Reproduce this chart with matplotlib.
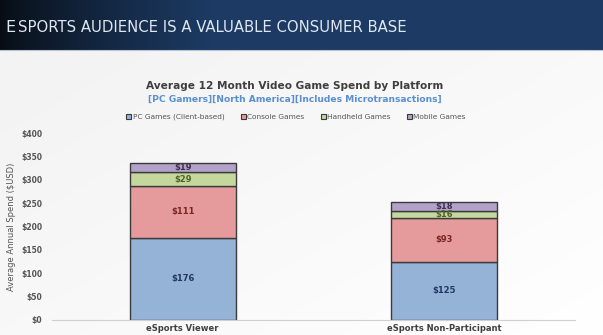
import numpy as np
import matplotlib
matplotlib.use("Agg")
import matplotlib.pyplot as plt
from matplotlib.patches import Patch

categories = ["eSports Viewer", "eSports Non-Participant"]
series_names = ["PC Games (Client-based)", "Console Games", "Handheld Games", "Mobile Games"]
pc_games = [176, 125]
console_games = [111, 93]
handheld_games = [29, 16]
mobile_games = [19, 18]
yticks = [0, 50, 100, 150, 200, 250, 300, 350, 400]

series = [pc_games, console_games, handheld_games, mobile_games]
fills = ["#95b3d7", "#e59a9b", "#c4d79c", "#b3a2c7"]
label_colors = ["#1f3864", "#7a2424", "#4f6228", "#403151"]

W, H = 603, 335
fig = plt.figure(figsize=(W / 100, H / 100), dpi=100)

# background gradient
bg = fig.add_axes([0, 0, 1, 1], zorder=-10)
grad = np.linspace(0, 1, 256)
gx, gy = np.meshgrid(grad, grad)
bgimg = 0.955 + 0.045 * np.clip(gx * 0.6 + (1 - gy) * 0.6 - 0.2, 0, 1)
bg.imshow(np.dstack([bgimg] * 3), extent=[0, 1, 0, 1], aspect="auto", origin="lower")
# header band
hdr_h = 50 / H
hx = np.linspace(0, 1, 256)
c0 = np.array([0.03, 0.05, 0.08])
c1 = np.array([0.11, 0.23, 0.39])
t = np.clip(hx / 0.35, 0, 1) ** 0.8
row = c0[None, :] * (1 - t[:, None]) + c1[None, :] * t[:, None]
hdr = np.repeat(row[None, :, :], 8, axis=0)
bg.imshow(hdr, extent=[0, 1, 1 - hdr_h, 1], aspect="auto", origin="lower")
bg.plot([0, 1], [1 - hdr_h, 1 - hdr_h], color="#b8c4d4", lw=0.8)
bg.set_xlim(0, 1)
bg.set_ylim(0, 1)
bg.axis("off")

fig.text(5 / W, 1 - 27 / H, "E", color="#dfe7f0", fontsize=11.5, va="center", ha="left")
fig.text(18 / W, 1 - 27 / H, "SPORTS AUDIENCE IS A VALUABLE CONSUMER BASE",
         color="#dfe7f0", fontsize=10.7, va="center", ha="left")

fig.text(295 / W, 1 - 86 / H, "Average 12 Month Video Game Spend by Platform",
         color="#3f3f3f", fontsize=7.6, fontweight="bold", ha="center", va="center")
fig.text(295 / W, 1 - 99 / H, "[PC Gamers][North America][Includes Microtransactions]",
         color="#5a8fd0", fontsize=6.6, fontweight="bold", ha="center", va="center")

ax = fig.add_axes([52 / W, 1 - 320 / H, 523 / W, 187 / H])
ax.set_facecolor("none")
x = np.arange(len(categories))
bottom = np.zeros(len(categories))
handles = []
for vals, fc, lc, name in zip(series, fills, label_colors, series_names):
    vals = np.array(vals, dtype=float)
    ax.bar(x, vals, width=0.405, bottom=bottom, color=fc, edgecolor="#3a3a3a", linewidth=1.0)
    for xi, b, v in zip(x, bottom, vals):
        ax.text(xi, b + v / 2, f"${int(v)}", ha="center", va="center",
                fontsize=6, fontweight="bold", color=lc)
    bottom += vals
    handles.append(Patch(facecolor=fc, edgecolor="#3a3a3a", linewidth=0.8, label=name))

ax.set_xlim(-0.5, 1.5)
ax.set_ylim(0, 400)
ax.set_yticks(yticks)
ax.set_yticklabels([f"${v}" for v in yticks], fontsize=5.5, color="#555555", fontweight="bold")
ax.set_xticks(x)
ax.set_xticklabels(categories, fontsize=6, fontweight="bold", color="#404040")
ax.tick_params(axis="both", length=0, pad=3)
ax.tick_params(axis="y", pad=7)
for s in ["top", "right", "left"]:
    ax.spines[s].set_visible(False)
ax.spines["bottom"].set_color("#d0d0d0")
ax.set_ylabel("Average Annual Spend ($USD)", fontsize=6, color="#555555", labelpad=4)

fig.legend(handles=handles, loc="center", bbox_to_anchor=(296 / W, 1 - 117 / H), ncol=4,
           frameon=False, fontsize=5.3, handlelength=0.7, handleheight=0.7,
           handletextpad=0.2, columnspacing=2.2, labelcolor="#555555")

fig.savefig("out.png", dpi=100)
